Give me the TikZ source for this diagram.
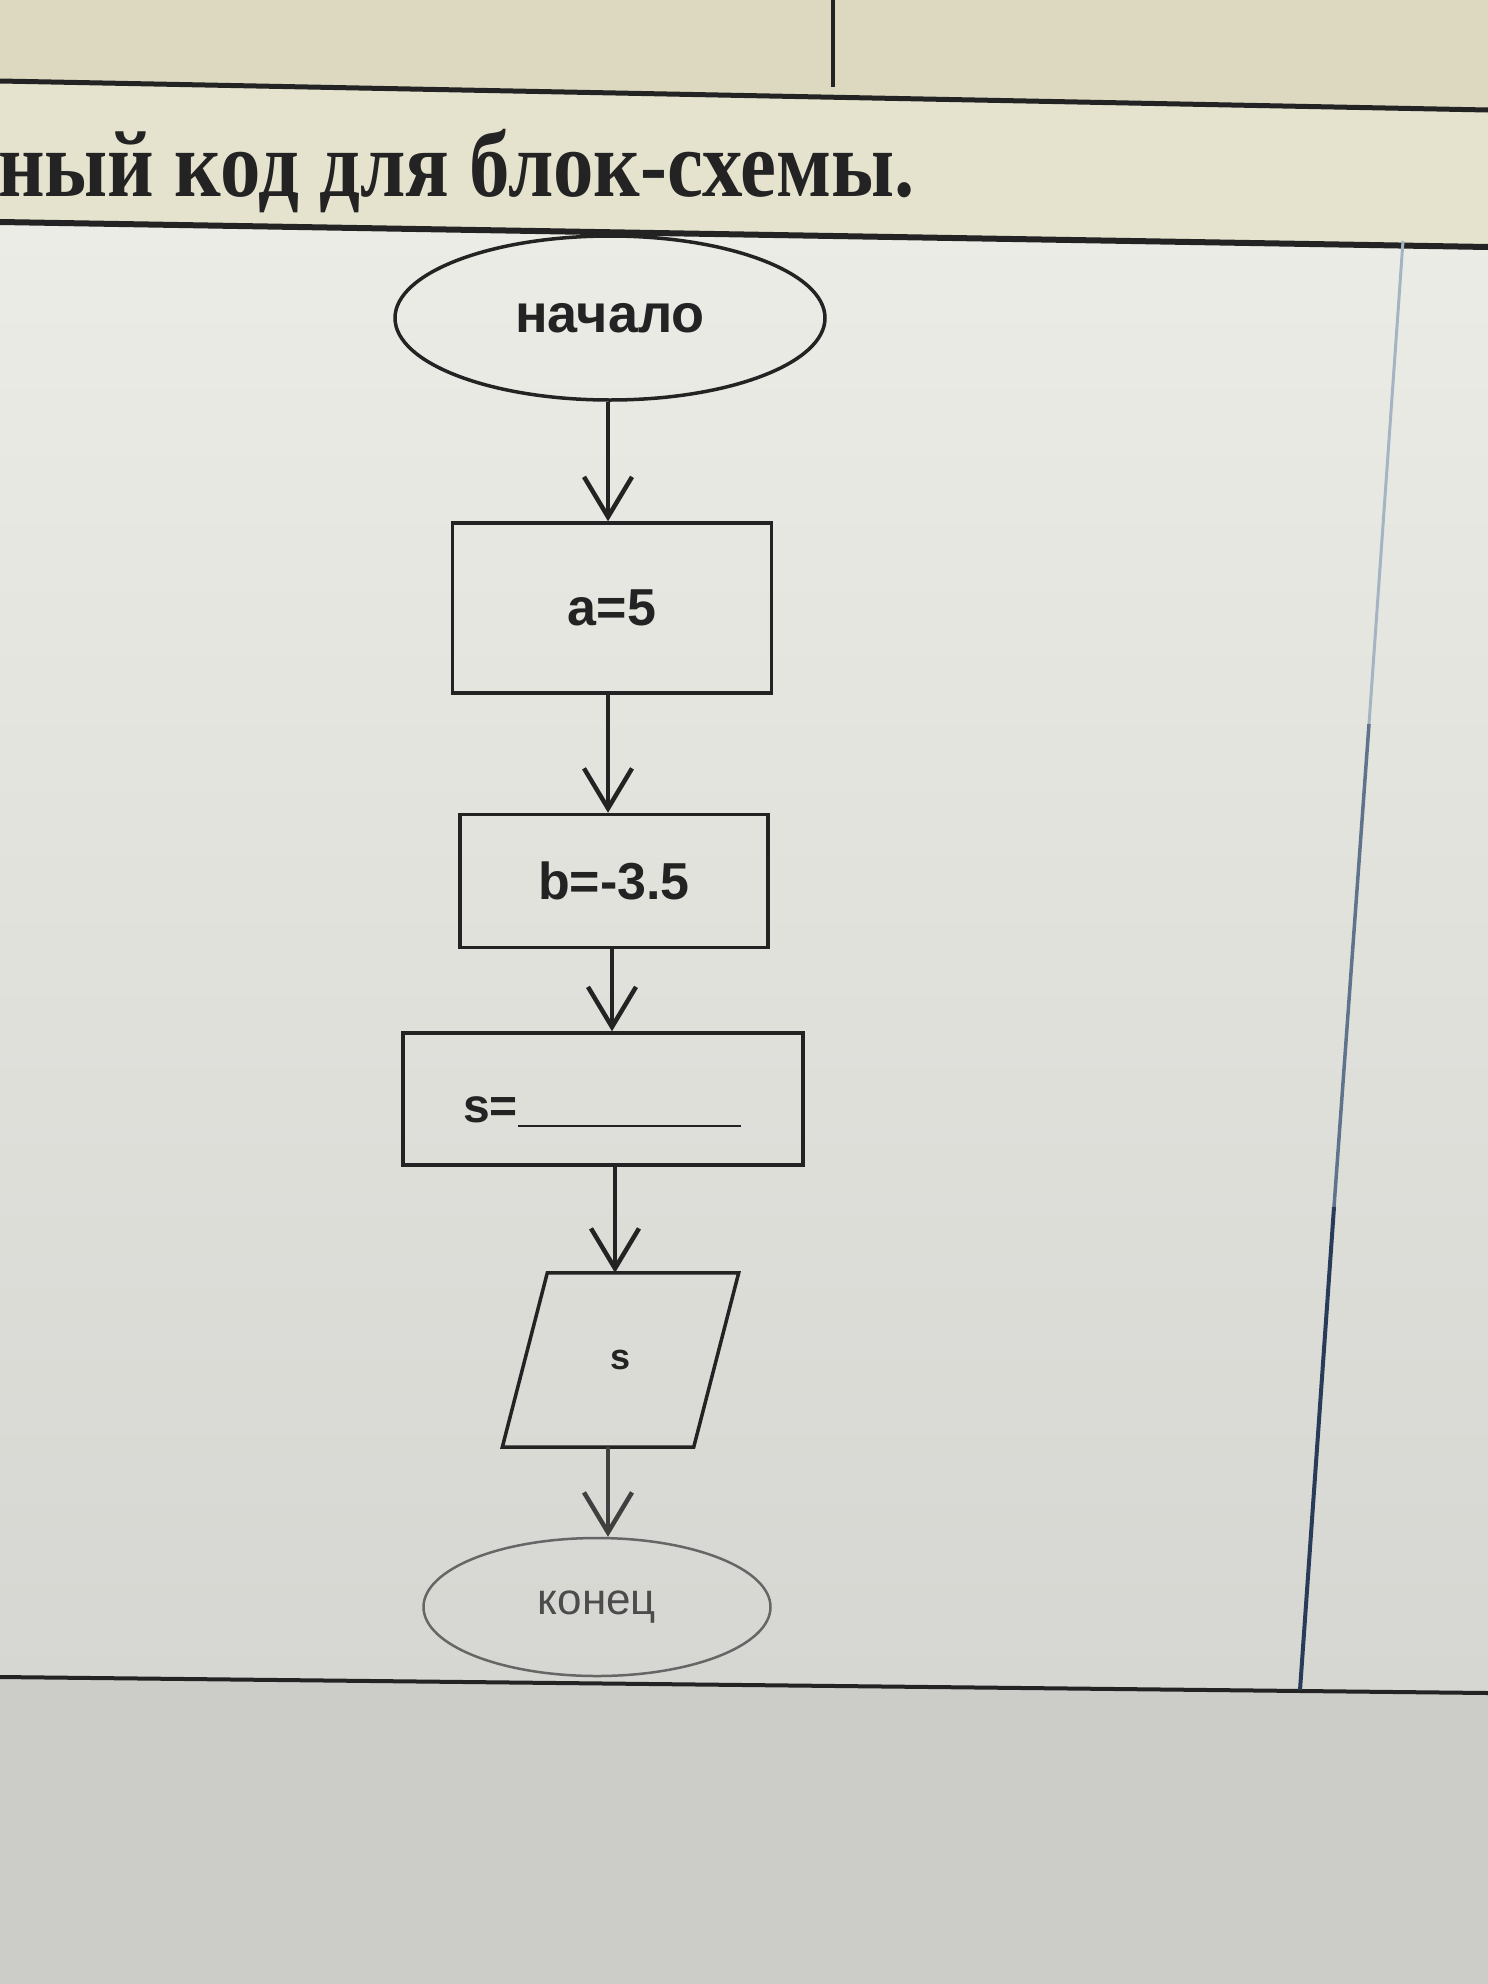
\documentclass[tikz,border=0pt]{standalone}
\usepackage{fontspec}
\setmainfont{Liberation Sans}
\newfontfamily\titlefont{Liberation Serif}
\usetikzlibrary{shapes.geometric,arrows.meta}
\definecolor{bgtop}{RGB}{220,217,192}
\definecolor{bgband}{RGB}{229,227,206}
\definecolor{bgmainA}{RGB}{236,236,230}
\definecolor{bgmainB}{RGB}{214,214,210}
\definecolor{bgbot}{RGB}{204,204,201}
\definecolor{inkc}{RGB}{35,35,35}
\definecolor{slantA}{RGB}{165,180,195}
\definecolor{slantB}{RGB}{95,115,140}
\definecolor{slantC}{RGB}{40,60,90}
\begin{document}
\begin{tikzpicture}[x=1pt,y=-1pt,
  ink/.style={draw=inkc, line width=3.5pt},
  term/.style={ellipse, ink, inner sep=0pt, text=inkc, font=\fontsize{54}{60}\selectfont\bfseries},
  proc/.style={rectangle, ink, inner sep=0pt, text=inkc, font=\fontsize{52}{60}\selectfont\bfseries},
  arr/.style={draw=inkc, line width=3.5pt, -{Straight Barb[length=40pt,width=48pt,line width=4.5pt]}},
  rule/.style={draw=inkc, line width=5pt},
]
\useasboundingbox (0,0) rectangle (1488,1984);
% backgrounds
\fill[bgbot] (0,0) rectangle (1488,1984);
\fill[bgtop] (0,0) -- (1488,0) -- (1488,110) -- (0,81) -- cycle;
\fill[bgband] (0,81) -- (1488,110) -- (1488,247) -- (0,222) -- cycle;
\shade[top color=bgmainA, bottom color=bgmainB] (0,222) -- (1488,247) -- (1488,1693) -- (0,1677) -- cycle;
% page lines
\draw[rule] (0,81) -- (1488,110);
\draw[draw=inkc, line width=4pt] (833,0) -- (833,87);
\draw[rule, line width=6pt] (0,222) -- (1488,247);
\draw[rule, line width=4pt] (0,1677) -- (1488,1693);
\draw[slantA, line width=3pt] (1403,241) -- (1369,724);
\draw[slantB, line width=3.5pt] (1369,724) -- (1334,1207);
\draw[slantC, line width=4pt] (1334,1207) -- (1300,1690);
% title
\node[anchor=base west, inner sep=0pt, text=inkc, xscale=0.86, font=\titlefont\fontsize{94}{100}\selectfont\bfseries] (title) at (-2,196) {ный код для блок-схемы.};
% flowchart
\node[term, minimum width=430pt, minimum height=164pt] (nach) at (610,318) {начало};
\node[proc, minimum width=319pt, minimum height=170pt] (a) at (612,608) {a=5};
\node[proc, minimum width=308pt, minimum height=133pt] (b) at (614,881) {b=-3.5};
\node[proc, minimum width=400pt, minimum height=132pt] (s) at (603,1099) {};
\node[anchor=base west, inner sep=0pt, text=inkc, font=\fontsize{48}{52}\selectfont\bfseries] (stext) at (463,1122) {s=\rule[-5pt]{223pt}{2.5pt}};
\node[minimum width=191pt, minimum height=174pt, inner sep=0pt, text=inkc, font=\fontsize{36}{40}\selectfont\bfseries] (p) at (620.5,1360) {s};
\draw[ink] ([xshift=22.5pt]p.north west) -- ([xshift=22.5pt]p.north east) -- ([xshift=-22.5pt]p.south east) -- ([xshift=-22.5pt]p.south west) -- cycle;
\node[term, draw=black!60, line width=2.5pt, text=black!70, minimum width=347pt, minimum height=138pt, font=\fontsize{44}{50}\selectfont] (kon) at (597,1607) {конец};
% connectors
\coordinate (x1) at (608,0);
\coordinate (x2) at (612,0);
\coordinate (x3) at (615,0);
\draw[arr] (nach.south -| x1) -- (a.north -| x1);
\draw[arr] (a.south -| x1) -- (b.north -| x1);
\draw[arr] (b.south -| x2) -- (s.north -| x2);
\draw[arr] (s.south -| x3) -- (p.north -| x3);
\draw[arr, draw=black!75] (p.south -| x1) -- (kon.north -| x1);
\end{tikzpicture}
\end{document}
